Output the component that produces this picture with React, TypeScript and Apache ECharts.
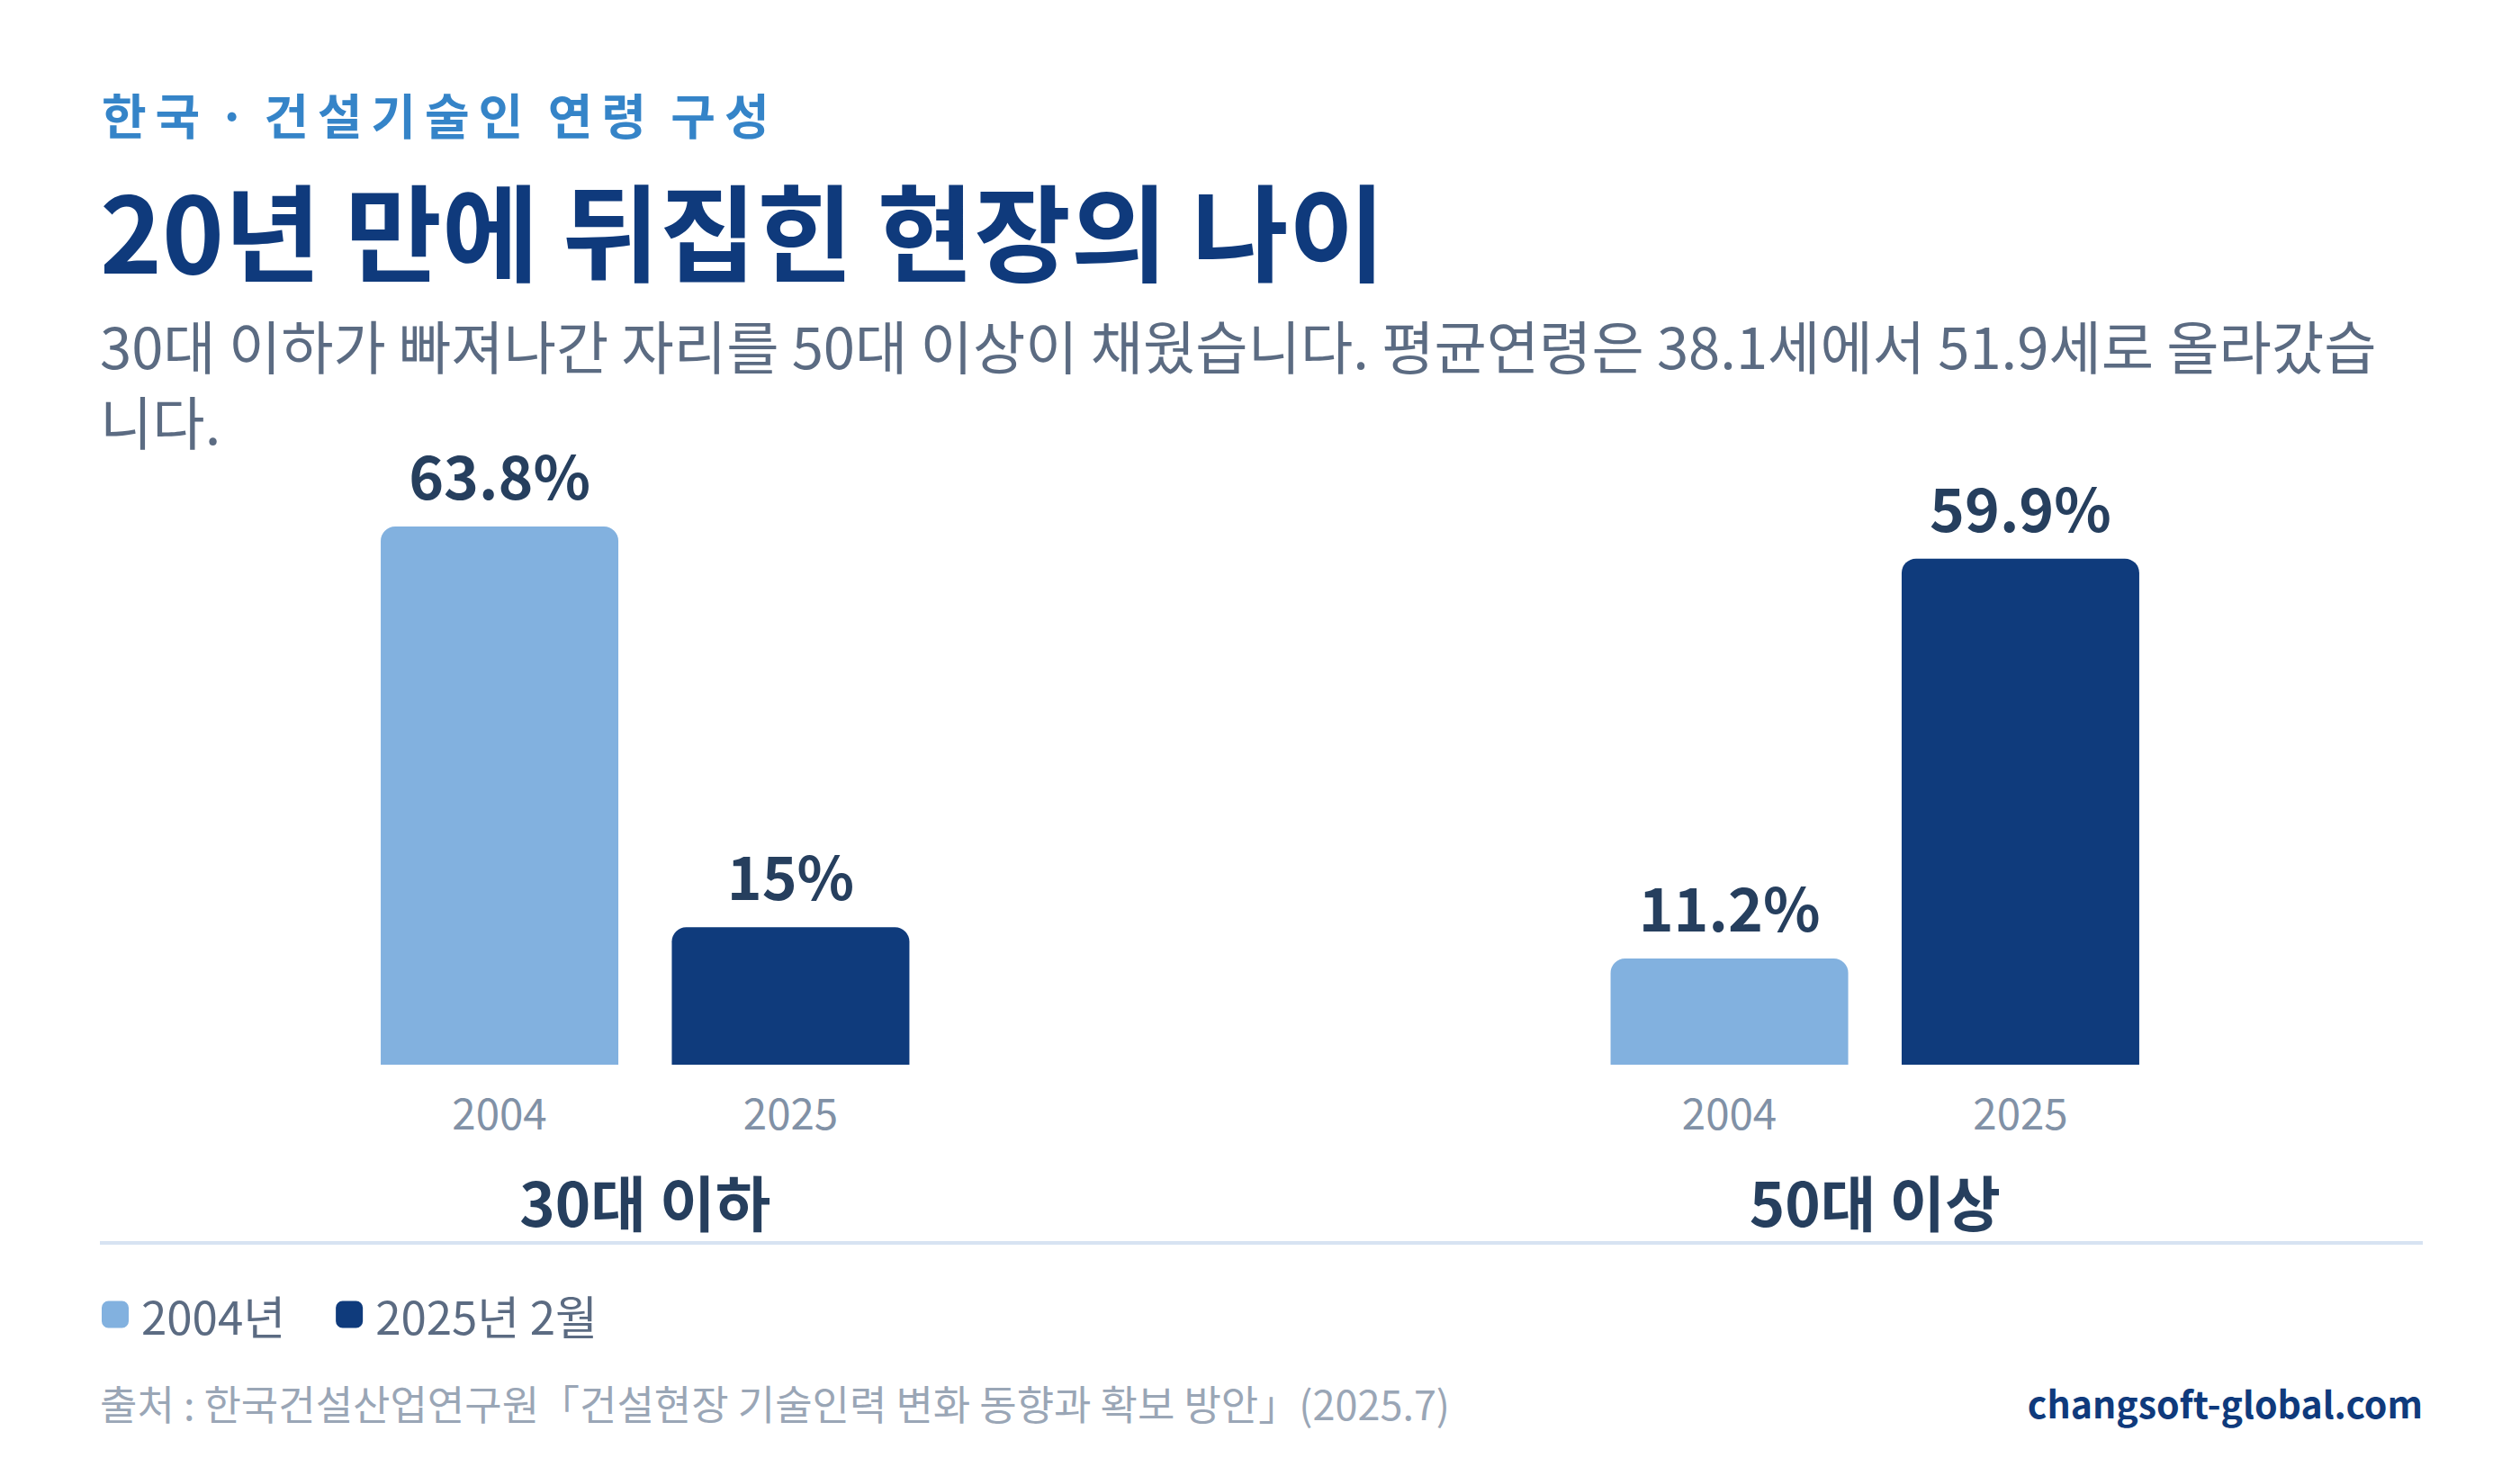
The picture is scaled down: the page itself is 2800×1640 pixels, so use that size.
import React, { useEffect, useRef } from 'react';
import * as echarts from 'echarts';

// ---- data ----
const groups = ['30대 이하', '50대 이상'];
const barYears = ['2004', '2025'];
const legendNames = ['2004년', '2025년 2월'];
const values2004 = [63.8, 11.2];
const values2025 = [15, 59.9];

// ---- texts ----
const eyebrow = '한국 · 건설기술인 연령 구성';
const title = '20년 만에 뒤집힌 현장의 나이';
const subtitleLines = [
  '30대 이하가 빠져나간 자리를 50대 이상이 채웠습니다. 평균연령은 38.1세에서 51.9세로 올라갔습',
  '니다.',
];
const source = '출처 : 한국건설산업연구원「건설현장 기술인력 변화 동향과 확보 방안」(2025.7)';
const site = 'changsoft-global.com';

const FONT = '"Noto Sans CJK KR", "Noto Sans", sans-serif';
const LIGHT = '#82b1df';
const DARK = '#0f3b7c';
const LABEL = '#263f5e';
const EYEBROW = '#3584c8';

const eyebrowRich = eyebrow
  .split('')
  .map((ch) => (ch === ' ' ? `{s|${ch}}` : ch === '·' ? `{d|${ch}}` : `{h|${ch}}`))
  .join('');

function buildOption(): any {
  const valueLabel = {
    show: true,
    position: 'top',
    distance: 26,
    formatter: '{c}%',
    fontSize: 66,
    fontWeight: 'bold',
    color: LABEL,
    fontFamily: FONT,
  };
  const eyebrowToken = { fontSize: 54, fontWeight: 'bold', fill: EYEBROW, fontFamily: FONT, align: 'center' };
  return {
    animation: false,
    backgroundColor: '#ffffff',
    textStyle: { fontFamily: FONT },
    grid: { left: 33.5, right: 33.5, top: 528.5, bottom: 457, containLabel: false },
    xAxis: {
      type: 'category',
      data: groups,
      axisLine: { show: false },
      axisTick: { show: false },
      splitLine: { show: false },
      axisLabel: {
        interval: 0,
        margin: 21,
        formatter: (v: string) => `${barYears.map((y) => `{y|${y}}`).join('')}\n{c|${v}}`,
        rich: {
          y: { width: 323.5, align: 'center', fontSize: 47.5, color: '#8191a6', lineHeight: 60, fontFamily: FONT },
          c: { align: 'center', fontSize: 67, fontWeight: 'bold', color: LABEL, lineHeight: 139, fontFamily: FONT },
        },
      },
    },
    yAxis: { type: 'value', min: -1.73, max: 70, startValue: -1.73, show: false, splitLine: { show: false } },
    legend: {
      left: 108,
      top: 1430,
      itemWidth: 30,
      itemHeight: 30,
      itemGap: 56,
      icon: 'roundRect',
      data: legendNames,
      textStyle: { fontSize: 51, color: '#5b6b82', fontFamily: FONT, padding: [0, 0, 0, 9] },
    },
    series: [
      {
        type: 'bar',
        name: legendNames[0],
        data: values2004,
        barWidth: 264,
        barGap: '22.5%',
        itemStyle: { color: LIGHT, borderRadius: [16, 16, 0, 0] },
        label: valueLabel,
      },
      {
        type: 'bar',
        name: legendNames[1],
        data: values2025,
        barWidth: 264,
        barGap: '22.5%',
        itemStyle: { color: DARK, borderRadius: [16, 16, 0, 0] },
        label: valueLabel,
      },
    ],
    graphic: [
      {
        type: 'text',
        x: 108,
        y: 126,
        style: {
          text: eyebrowRich,
          fontFamily: FONT,
          fontSize: 54,
          fontWeight: 'bold',
          fill: EYEBROW,
          verticalAlign: 'middle',
          rich: {
            h: { ...eyebrowToken, width: 59.6 },
            s: { ...eyebrowToken, width: 17.5 },
            d: { ...eyebrowToken, width: 26 },
          },
        },
      },
      {
        type: 'text',
        x: 111,
        y: 252.5,
        style: {
          text: title,
          fontFamily: FONT,
          fontSize: 117,
          fontWeight: 'bold',
          fill: '#0f3a7c',
          verticalAlign: 'middle',
        },
      },
      {
        type: 'text',
        x: 111,
        y: 340,
        style: {
          text: subtitleLines.join('\n'),
          fontFamily: FONT,
          fontSize: 63.4,
          lineHeight: 84,
          fill: '#5b6b82',
          verticalAlign: 'top',
        },
      },
      {
        type: 'line',
        shape: { x1: 111, y1: 1381, x2: 2692, y2: 1381 },
        style: { stroke: '#d7e3f2', lineWidth: 4 },
      },
      {
        type: 'text',
        x: 111,
        y: 1558,
        style: {
          text: source,
          fontFamily: FONT,
          fontSize: 45,
          fill: '#9aa6b6',
          verticalAlign: 'middle',
        },
      },
      {
        type: 'text',
        x: 2692,
        y: 1558,
        style: {
          text: site,
          fontFamily: FONT,
          fontSize: 41,
          fontWeight: 'bold',
          fill: '#0f3a7c',
          align: 'right',
          verticalAlign: 'middle',
        },
      },
    ],
  };
}

export default function App() {
  const ref = useRef<HTMLDivElement>(null);
  useEffect(() => {
    if (!ref.current) return;
    const chart = echarts.init(ref.current, null, { renderer: 'svg' });
    chart.setOption(buildOption());
    return () => chart.dispose();
  }, []);
  return (
    <div
      ref={ref}
      style={{ position: 'fixed', left: 0, top: 0, width: 2800, height: 1640, background: '#ffffff' }}
    />
  );
}
